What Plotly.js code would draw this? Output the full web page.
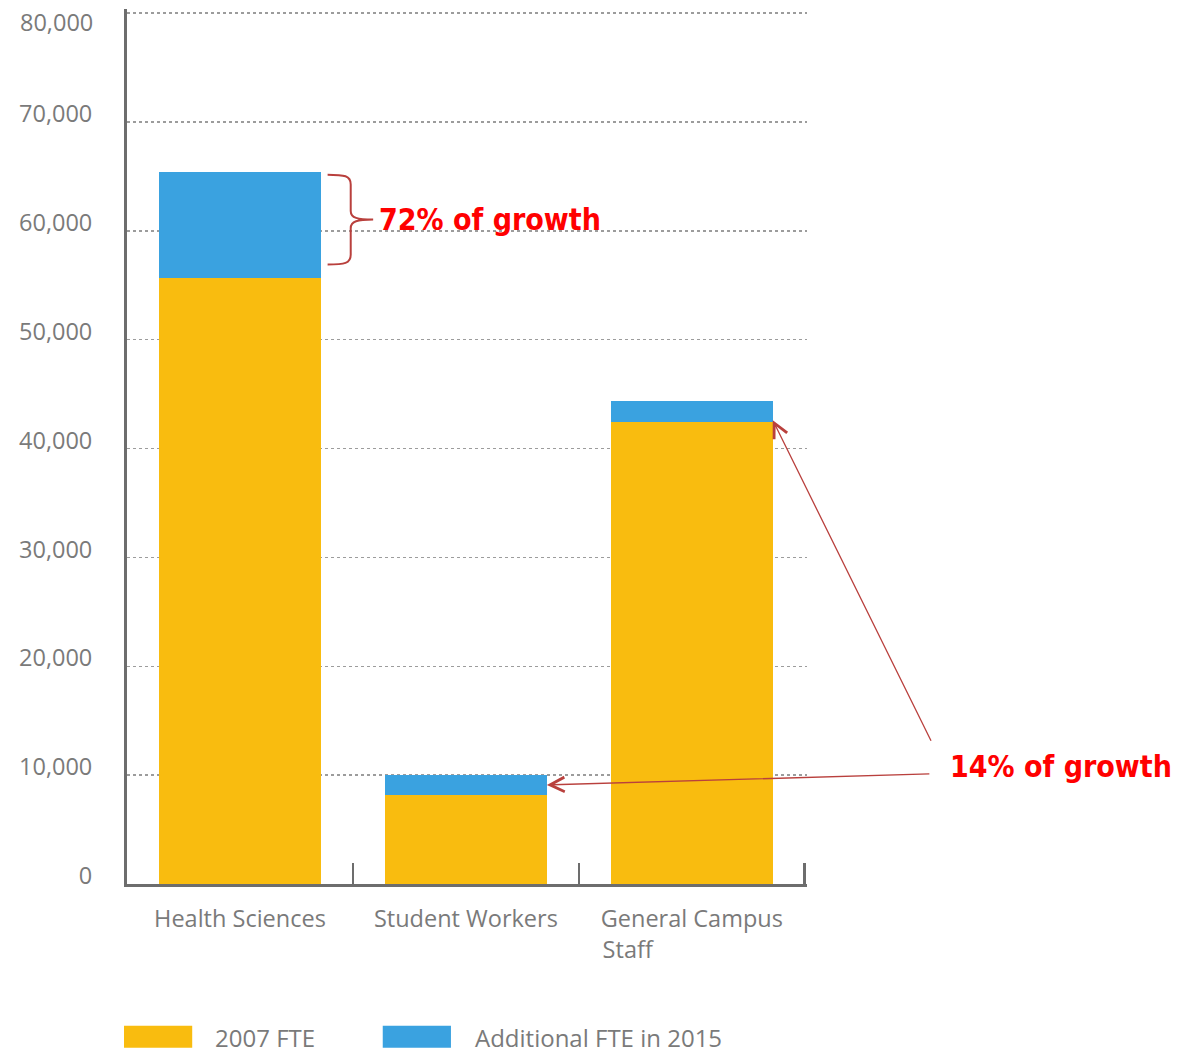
<!DOCTYPE html>
<html>
<head>
<meta charset="utf-8">
<script src="https://cdn.plot.ly/plotly-3.0.1.min.js"></script>
<style>
  html, body { margin: 0; padding: 0; background: #ffffff; }
  #chart { width: 1180px; height: 1053px; }
</style>
</head>
<body>
<div id="chart"></div>
<script>
// ---- data ----
var categories = ["Health Sciences", "Student Workers", "General Campus Staff"];
var tickLabels = ["Health Sciences", "Student Workers",
  "General Campus<br>Staff" + "\u00A0".repeat(21)];
var fte2007 = [55700, 8200, 42400];
var additional2015 = [9700, 1800, 2000];
var seriesNames = ["2007 FTE", "Additional FTE in 2015"];
var seriesColors = ["#F9BC0F", "#3AA2E0"];
var yTicks = [0, 10000, 20000, 30000, 40000, 50000, 60000, 70000, 80000];
var bigNote = "72% of growth";
var smallNote = "14% of growth";

var labelFont = "Open Sans, Liberation Sans, sans-serif";
var noteFont = "Liberation Sans Narrow, DejaVu Sans Condensed, Liberation Sans, sans-serif";
var noteRed = "#FF0000";
var arrowRed = "#B9403D";
var textGray = "#7a7a7a";

var fmt = function (v) { return v.toLocaleString("en-US"); };
var topTick = yTicks[yTicks.length - 1];
// the top label sits just under its gridline (it would run off the top otherwise)
var yTickText = yTicks.map(function (v) { return v === topTick ? "" : fmt(v); });

var traces = [
  { type: "bar", x: categories, y: fte2007, name: seriesNames[0],
    marker: { color: seriesColors[0] }, width: 0.717, hoverinfo: "skip" },
  { type: "bar", x: categories, y: additional2015, name: seriesNames[1],
    marker: { color: seriesColors[1] }, width: 0.717, hoverinfo: "skip" }
];

var total = fte2007.map(function (v, i) { return v + additional2015[i]; });

var shapes = [];
var annotations = [];

annotations.push({
  xref: "paper", yref: "y", x: 0, y: topTick, xanchor: "right", yanchor: "middle",
  xshift: -32, yshift: -9, showarrow: false, text: fmt(topTick),
  font: { family: labelFont, size: 23.5, color: textGray }
});

// curly brace beside the Health Sciences growth segment
var bTop = total[0] - 250, bBot = fte2007[0] + 1200, bMid = (bTop + bBot) / 2;
var x0 = 0.295, x1 = 0.329, x2 = 0.362;
shapes.push({
  type: "path", xref: "paper", yref: "y",
  path: "M" + x0 + "," + bTop +
        " C" + (x0 + 0.025) + "," + bTop + " " + x1 + "," + (bTop - 100) + " " + x1 + "," + (bTop - 900) +
        " L" + x1 + "," + (bMid + 800) +
        " C" + x1 + "," + (bMid + 150) + " " + (x1 + 0.01) + "," + bMid + " " + x2 + "," + bMid +
        " C" + (x1 + 0.01) + "," + bMid + " " + x1 + "," + (bMid - 150) + " " + x1 + "," + (bMid - 800) +
        " L" + x1 + "," + (bBot + 900) +
        " C" + x1 + "," + (bBot + 100) + " " + (x0 + 0.025) + "," + bBot + " " + x0 + "," + bBot,
  line: { color: arrowRed, width: 2 }
});

annotations.push({
  xref: "paper", yref: "y", x: 0.368, y: bMid, xanchor: "left", yanchor: "middle",
  text: "<b>" + bigNote + "</b>", showarrow: false,
  font: { family: noteFont, size: 30, color: noteRed }
});

// arrows to the smaller growth segments
annotations.push({
  x: 2.3585, y: 42600, xref: "x", yref: "y", text: "", showarrow: true,
  axref: "pixel", ayref: "pixel", ax: 159, ay: 322,
  arrowhead: 5, arrowsize: 2.2, arrowwidth: 1.3, arrowcolor: arrowRed, standoff: 0, startstandoff: 0
});
annotations.push({
  x: 1.3585, y: 9100, xref: "x", yref: "y", text: "", showarrow: true,
  axref: "pixel", ayref: "pixel", ax: 384, ay: -11,
  arrowhead: 5, arrowsize: 2.2, arrowwidth: 1.3, arrowcolor: arrowRed, standoff: 0, startstandoff: 0
});
annotations.push({
  xref: "paper", yref: "y", x: 1.208, y: 10800, xanchor: "left", yanchor: "middle",
  text: "<b>" + smallNote + "</b>", showarrow: false,
  font: { family: noteFont, size: 30, color: noteRed }
});

// custom legend with wide swatches (below plot)
var legendSw = [[-0.0044, 0.0959, 0.1268], [0.3761, 0.4764, 0.5088]];
seriesNames.forEach(function (nm, i) {
  shapes.push({
    type: "rect", xref: "paper", yref: "paper",
    x0: legendSw[i][0], x1: legendSw[i][1], y0: -0.1871, y1: -0.1619,
    fillcolor: seriesColors[i], line: { width: 0 }
  });
  annotations.push({
    xref: "paper", yref: "paper", x: legendSw[i][2], y: -0.1757,
    xanchor: "left", yanchor: "middle", showarrow: false, text: nm,
    font: { family: labelFont, size: 24, color: textGray }
  });
});

var layout = {
  width: 1180, height: 1053,
  margin: { l: 127, r: 373, t: 9, b: 169 },
  paper_bgcolor: "#ffffff", plot_bgcolor: "#ffffff",
  barmode: "stack",
  showlegend: false,
  xaxis: {
    type: "category",
    range: [-0.5, 2.51], autorange: false,
    tickvals: categories, ticktext: tickLabels, tickangle: 0,
    tickson: "boundaries", ticks: "inside", ticklen: 21, tickwidth: 2.5, tickcolor: "#6d6d6d",
    showline: true, linecolor: "#6d6d6d", linewidth: 3,
    showgrid: false, zeroline: false,
    tickfont: { family: labelFont, size: 23.5, color: textGray },
    ticklabelstandoff: 12,
    fixedrange: true
  },
  yaxis: {
    range: [0, 80367], autorange: false, tickvals: yTicks, ticktext: yTickText,
    showline: true, linecolor: "#6d6d6d", linewidth: 3,
    showgrid: true, gridcolor: "#9c9c9c", gridwidth: 1.5, griddash: "3px,3px",
    zeroline: false, ticks: "",
    tickfont: { family: labelFont, size: 23.5, color: textGray },
    ticklabelstandoff: 27, ticklabelshift: -8,
    fixedrange: true
  },
  shapes: shapes,
  annotations: annotations
};

Plotly.newPlot("chart", traces, layout, { displayModeBar: false, staticPlot: true });
</script>
</body>
</html>
